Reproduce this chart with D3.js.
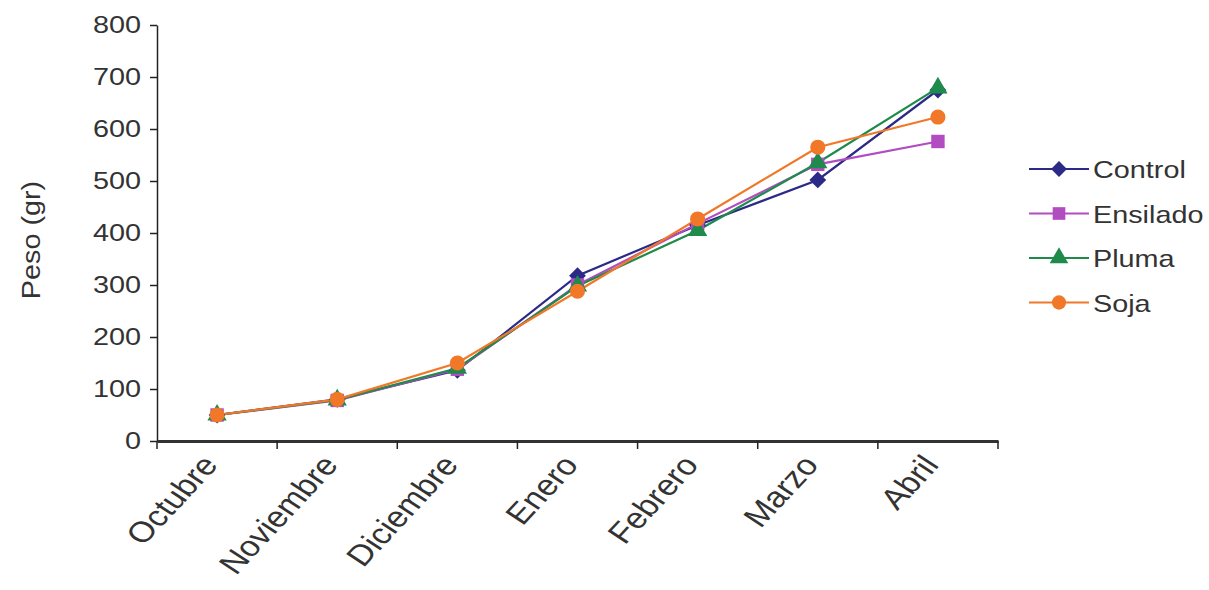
<!DOCTYPE html>
<html>
<head>
<meta charset="utf-8">
<script src="https://cdn.jsdelivr.net/npm/d3@7/dist/d3.min.js"></script>
<style>
  body { margin: 0; background: #fff; }
  svg { font-family: "Liberation Sans", Arial, sans-serif; }
</style>
</head>
<body>
<div id="chart"></div>
<script>
const months = ["Octubre", "Noviembre", "Diciembre", "Enero", "Febrero", "Marzo", "Abril"];
const yTicks = [0, 100, 200, 300, 400, 500, 600, 700, 800];

const control  = [50, 80, 136, 318, 415, 502, 675];
const ensilado = [50, 78, 138, 300, 418, 532, 576];
const pluma    = [50, 79, 140, 298, 405, 535, 679];
const soja     = [50, 80, 150, 288, 427, 565, 623];

const series = [
    { name: "Control", values: control, color: "#2b2a86", symbol: d3.symbolDiamond2 },
    { name: "Ensilado", values: ensilado, color: "#b14dc0", symbol: d3.symbolSquare },
    { name: "Pluma", values: pluma, color: "#1e8a4c", symbol: d3.symbolTriangle },
    { name: "Soja", values: soja, color: "#f07828", symbol: d3.symbolCircle }
];

const WIDTH = 1209;
const HEIGHT = 590;
const MARGIN = { top: 25, left: 157, right: 998, bottom: 441 };
const FONT = 24;
const STRETCH = 1.2;   // text in the source is drawn wider than normal

const svg = d3.select("#chart")
    .append("svg")
    .attr("width", WIDTH)
    .attr("height", HEIGHT);

const x = d3.scaleBand()
    .domain(months)
    .range([MARGIN.left, MARGIN.right])
    .padding(0);

const y = d3.scaleLinear()
    .domain([0, 800])
    .range([MARGIN.bottom, MARGIN.top]);

// y axis
const yAxis = svg.append("g")
    .attr("transform", `translate(${MARGIN.left},0)`)
    .call(d3.axisLeft(y).tickValues(yTicks).tickSize(7).tickSizeOuter(0).tickPadding(10));
yAxis.select(".domain").attr("stroke", "#222").attr("stroke-width", 1.5);
yAxis.selectAll(".tick line").attr("stroke", "#222").attr("stroke-width", 1.5);
yAxis.selectAll(".tick text")
    .attr("font-size", FONT)
    .attr("fill", "#333")
    .attr("font-family", "Liberation Sans, Arial, sans-serif")
    .attr("x", -16 / STRETCH)
    .attr("transform", `scale(${STRETCH},1)`);

// x axis: labels from the band scale, ticks at band edges
const xAxis = svg.append("g")
    .attr("transform", `translate(0,${MARGIN.bottom})`)
    .call(d3.axisBottom(x).tickSize(0).tickSizeOuter(0).tickPadding(0));
xAxis.select(".domain").attr("stroke", "#333").attr("stroke-width", 3);
xAxis.selectAll(".tick text")
    .attr("font-size", 29)
    .attr("fill", "#333")
    .attr("font-family", "Liberation Sans, Arial, sans-serif")
    .attr("text-anchor", "end")
    .attr("y", 0)
    .attr("dy", "0.7em")
    .attr("transform", `translate(-17,12) scale(${STRETCH},1) rotate(-52)`);

const edges = months.map(m => x(m)).concat([x.range()[1]]);
svg.append("g")
    .selectAll("line")
    .data(edges)
    .enter()
    .append("line")
    .attr("x1", d => d)
    .attr("x2", d => d)
    .attr("y1", MARGIN.bottom)
    .attr("y2", MARGIN.bottom + 8)
    .attr("stroke", "#222")
    .attr("stroke-width", 1.5);

// y title
svg.append("text")
    .attr("transform", `translate(40,240) rotate(-90) scale(1.2,1.1)`)
    .attr("text-anchor", "middle")
    .attr("font-size", FONT)
    .attr("fill", "#333")
    .text("Peso (gr)");

const cx = m => x(m) + x.bandwidth() / 2;

const line = d3.line()
    .x((d, i) => cx(months[i]))
    .y(d => y(d));

series.forEach(s => {
    svg.append("path")
        .datum(s.values)
        .attr("d", line)
        .attr("fill", "none")
        .attr("stroke", s.color)
        .attr("stroke-width", 2.2);
});

series.forEach(s => {
    const size = s.symbol === d3.symbolTriangle ? 160 : 180;
    svg.append("g")
        .selectAll("path")
        .data(s.values)
        .enter()
        .append("path")
        .attr("transform", (d, i) => `translate(${cx(months[i])},${y(d)})`)
        .attr("d", d3.symbol().type(s.symbol).size(size))
        .attr("fill", s.color);
});

// legend
const legend = svg.append("g")
    .attr("transform", "translate(1029,169)");

series.forEach((s, i) => {
    const g = legend.append("g").attr("transform", `translate(0,${i * 44.5})`);
    g.append("line")
        .attr("x1", 0)
        .attr("x2", 60)
        .attr("y1", 0)
        .attr("y2", 0)
        .attr("stroke", s.color)
        .attr("stroke-width", 2.2);
    g.append("path")
        .attr("transform", "translate(30,0)")
        .attr("d", d3.symbol().type(s.symbol).size(s.symbol === d3.symbolTriangle ? 150 : 160))
        .attr("fill", s.color);
    g.append("text")
        .attr("transform", `translate(64,9) scale(${STRETCH},1)`)
        .attr("font-size", FONT)
        .attr("fill", "#333")
        .text(s.name);
});
</script>
</body>
</html>
